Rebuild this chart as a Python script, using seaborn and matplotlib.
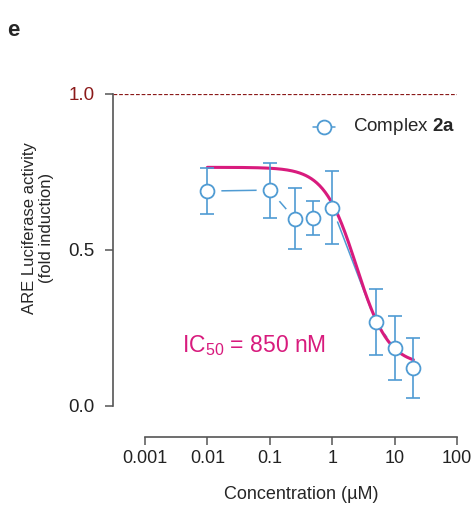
import numpy as np
import pandas as pd
import matplotlib
matplotlib.use("Agg")
import matplotlib.pyplot as plt
import seaborn as sns

# data
conc = [0.01, 0.1, 0.25, 0.5, 1, 5, 10, 20]
activity = [0.689, 0.692, 0.600, 0.603, 0.635, 0.269, 0.186, 0.122]
err = [0.073, 0.088, 0.098, 0.055, 0.117, 0.107, 0.104, 0.095]

# fitted dose-response curve (visual fit)
fit_top = 0.765
fit_bottom = 0.13
fit_ec50 = 2.45
fit_hill = 1.68

xticks = [0.001, 0.01, 0.1, 1, 10, 100]
xticklabels = ["0.001", "0.01", "0.1", "1", "10", "100"]
yticks = [0.0, 0.5, 1.0]
yticklabels = ["0.0", "0.5", "1.0"]

blue = "#4f9bd3"
magenta = "#d81b7d"
darkred = "#8b1a1a"

sns.set_style("ticks")
plt.rcParams["font.family"] = ["Liberation Sans", "DejaVu Sans"]
plt.rcParams["mathtext.fontset"] = "custom"
plt.rcParams["mathtext.rm"] = "Liberation Sans"
plt.rcParams["mathtext.bf"] = "Liberation Sans:bold"

df = pd.DataFrame({"conc": conc, "activity": activity, "err": err})
xfit = np.logspace(np.log10(0.01), np.log10(20), 300)
yfit = fit_bottom + (fit_top - fit_bottom) / (1 + (xfit / fit_ec50) ** fit_hill)
fit_df = pd.DataFrame({"conc": xfit, "activity": yfit})

fig = plt.figure(figsize=(4.77, 5.17), dpi=100)
ax = fig.add_axes([113 / 477, 111 / 517, 344 / 477, 312 / 517])
ax.set_xscale("log")

# connecting line, white halos to make the gaps around markers
ax.plot(df["conc"], df["activity"], color=blue, lw=1.1, zorder=1)
ax.plot(df["conc"], df["activity"], ls="none", marker="o", ms=19,
        mfc="white", mec="white", zorder=2)

sns.lineplot(data=fit_df, x="conc", y="activity", color=magenta, lw=2.2,
             ax=ax, zorder=3)

ax.errorbar(df["conc"], df["activity"], yerr=df["err"], fmt="none",
            ecolor=blue, elinewidth=1.2, capsize=4.7, capthick=1.2, zorder=4)
ax.plot(df["conc"], df["activity"], ls="none", marker="o", ms=10,
        mfc="white", mec=blue, mew=1.3, zorder=5)

ax.axhline(1.0, color=darkred, lw=0.9, ls=(0, (3, 1.5)), zorder=0)

ax.set_xlim(10 ** (-3 - 32 / 62.4), 100)
ax.set_ylim(0, 1.0)

ax.spines["top"].set_visible(False)
ax.spines["right"].set_visible(False)
ax.spines["bottom"].set_position(("outward", 22.3))
ax.spines["bottom"].set_bounds(0.001, 100)
for s in ["left", "bottom"]:
    ax.spines[s].set_color("#555555")
    ax.spines[s].set_linewidth(1.2)

ax.set_xticks(xticks)
ax.set_xticklabels(xticklabels)
ax.xaxis.set_minor_locator(matplotlib.ticker.NullLocator())
ax.set_yticks(yticks)
ax.set_yticklabels(yticklabels)
ax.tick_params(axis="both", length=6, width=1.1, color="#555555",
               labelcolor="#222222")
ax.tick_params(axis="x", labelsize=13, pad=3.6)
ax.tick_params(axis="y", labelsize=13.5, pad=7)
ax.get_yticklabels()[2].set_color(darkred)

ax.set_xlabel("Concentration (µM)", fontsize=13)
ax.xaxis.set_label_coords((301 - 113) / 344, -0.256)
ax.set_ylabel("ARE Luciferase activity\n(fold induction)", fontsize=12)
ax.yaxis.set_label_coords((54 - 113) / 344, 0.57)

# legend
ax.plot([0.58, 0.646], [0.895, 0.895], transform=ax.transAxes, color=blue,
        lw=1.1, clip_on=False)
ax.plot([0.613], [0.895], transform=ax.transAxes, ls="none", marker="o",
        ms=10, mfc="white", mec=blue, mew=1.3, clip_on=False)
ax.text(0.698, 0.895, r"Complex $\mathbf{2a}$", transform=ax.transAxes,
        fontsize=13.5, va="center", ha="left")

ax.text(0.0039, 0.173, r"IC$_{50}$ = 850 nM", color=magenta, fontsize=16.5,
        va="baseline", ha="left")

fig.text(7 / 477, 1 - 36 / 517, "e", fontsize=16, fontweight="bold")

fig.savefig("out.png", dpi=100)
